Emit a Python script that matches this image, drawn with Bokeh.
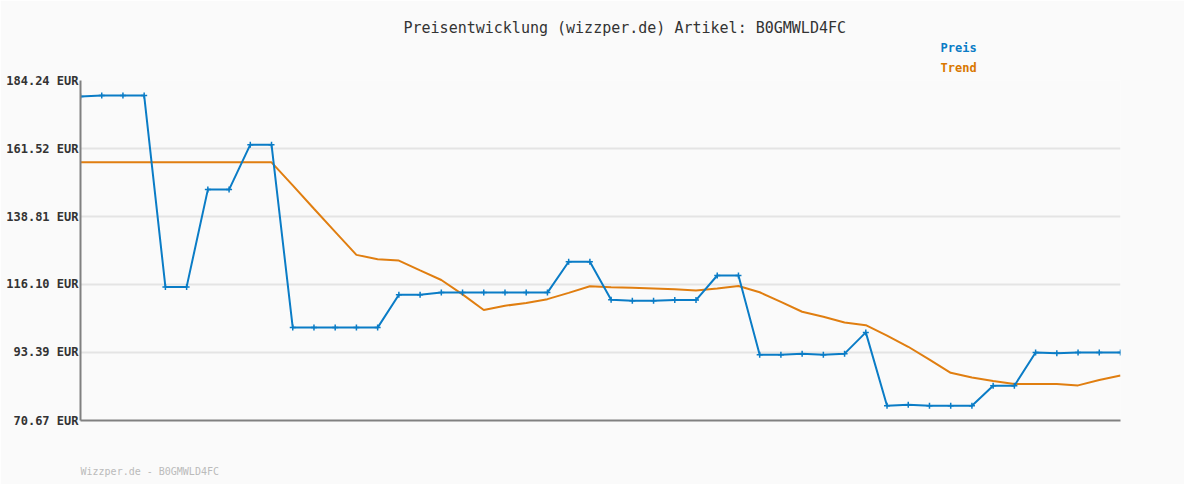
from bokeh.plotting import figure
from bokeh.models import Range1d, FixedTicker, Title
from bokeh.embed import file_html
from bokeh.resources import INLINE

# ---- data ----
tick_values = [70.67, 93.39, 116.10, 138.81, 161.52, 184.24]
tick_labels = ["70.67 EUR", "93.39 EUR", "116.10 EUR", "138.81 EUR", "161.52 EUR", "184.24 EUR"]

preis = [178.9, 179.2, 179.2, 179.2, 115.3, 115.3, 147.8, 147.8, 162.8, 162.8,
         101.7, 101.7, 101.7, 101.7, 101.7, 112.7, 112.7, 113.4, 113.4, 113.4,
         113.4, 113.4, 113.4, 123.7, 123.7, 111.0, 110.7, 110.7, 110.9, 110.9,
         119.1, 119.1, 92.6, 92.6, 93.0, 92.6, 93.0, 100.1, 75.6, 75.9,
         75.6, 75.6, 75.6, 82.3, 82.3, 93.4, 93.1, 93.4, 93.4, 93.4]

trend = [156.9, 156.9, 156.9, 156.9, 156.9, 156.9, 156.9, 156.9, 156.9, 156.9,
         149.2, 141.4, 133.7, 126.0, 124.5, 124.1, 120.8, 117.6, 112.8, 107.6,
         109.0, 109.9, 111.2, 113.3, 115.5, 115.2, 115.0, 114.8, 114.5, 114.1,
         114.8, 115.6, 113.5, 110.3, 107.0, 105.3, 103.4, 102.5, 99.0, 95.3,
         91.0, 86.6, 85.0, 83.9, 82.9, 82.9, 82.9, 82.4, 84.2, 85.7]

title_text = "Preisentwicklung (wizzper.de) Artikel: B0GMWLD4FC"
series_names = ["Preis", "Trend"]
footer_text = "Wizzper.de - B0GMWLD4FC"

idx = list(range(len(preis)))

BG = "#fafafa"
BLUE = "#0a7cc6"
ORANGE = "#e07e10"
ORANGE_TXT = "#d97700"
MONO = "DejaVu Sans Mono"

p = figure(width=1184, height=484, output_backend="svg", toolbar_location=None,
           x_range=Range1d(0, len(preis) - 1), y_range=Range1d(tick_values[0], tick_values[-1]),
           min_border_left=80, min_border_right=64, min_border_top=80, min_border_bottom=64)
p.background_fill_color = BG
p.border_fill_color = BG
p.outline_line_color = None

p.line(idx, trend, color=ORANGE, line_width=2)
p.line(idx, preis, color=BLUE, line_width=2)
p.scatter(idx, preis, marker="cross", size=6, line_width=1.5, color=BLUE)

# axes
for ax in (p.xaxis[0], p.yaxis[0]):
    ax.major_tick_out = 0
    ax.minor_tick_out = 0
    ax.major_tick_in = 0
    ax.minor_tick_in = 0
    ax.major_tick_line_color = None
    ax.minor_tick_line_color = None
    ax.axis_line_color = "#808080"
    ax.axis_line_width = 2

p.xaxis.ticker = FixedTicker(ticks=[])
p.xgrid.visible = False

p.yaxis.ticker = FixedTicker(ticks=tick_values)
p.yaxis.major_label_overrides = {v: l for v, l in zip(tick_values, tick_labels)}
p.yaxis.major_label_text_font = MONO
p.yaxis.major_label_text_font_size = "12px"
p.yaxis.major_label_text_font_style = "bold"
p.yaxis.major_label_text_color = "#333333"
p.yaxis.major_label_standoff = 2
p.ygrid.ticker = FixedTicker(ticks=tick_values)
p.ygrid.grid_line_color = "#e4e4e4"
p.ygrid.grid_line_width = 2

# titles stacked above the frame (first added = nearest the frame)
p.add_layout(Title(text=series_names[1], align="left", offset=860, text_font=MONO,
                   text_font_size="12px", text_font_style="bold", text_color=ORANGE_TXT,
                   vertical_align="middle", standoff=10), "above")
p.add_layout(Title(text=series_names[0], align="left", offset=860, text_font=MONO,
                   text_font_size="12px", text_font_style="bold", text_color=BLUE,
                   vertical_align="bottom", standoff=0), "above")
p.add_layout(Title(text=title_text, align="left", offset=323, text_font=MONO,
                   text_font_size="15px", text_font_style="normal", text_color="#333333",
                   vertical_align="middle", standoff=2), "above")

# footer as the x axis label (non-breaking spaces shift it to the frame's left edge)
xax = p.xaxis[0]
xax.axis_label = "\u00a0" * 23 + footer_text
xax.axis_label_align = "start"
xax.axis_label_standoff = 45
xax.axis_label_text_font = MONO
xax.axis_label_text_font_size = "10px"
xax.axis_label_text_font_style = "normal"
xax.axis_label_text_color = "#bbbbbb"

open("out.html", "w").write(file_html(p, INLINE))
